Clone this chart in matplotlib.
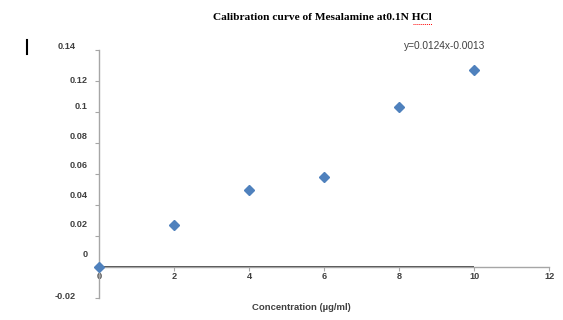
import numpy as np
import matplotlib
matplotlib.use("Agg")
import matplotlib.pyplot as plt
from matplotlib.lines import Line2D

# calibration data
conc = [0, 2, 4, 6, 8, 10]
absorb = [0.0, 0.027, 0.050, 0.058, 0.103, 0.127]
xticks = [0, 2, 4, 6, 8, 10, 12]
yticks = [-0.02, 0, 0.02, 0.04, 0.06, 0.08, 0.1, 0.12, 0.14]
ylabels = ["-0.02", "0", "0.02", "0.04", "0.06", "0.08", "0.1", "0.12", "0.14"]
title = "Calibration curve of Mesalamine at0.1N HCl"
equation = "y=0.0124x-0.0013"
xlabel = "Concentration (\u00b5g/ml)"

# excel put the y labels slightly off their ticks (points: dx, dy)
ylab_off = [(-17.3, 0.9), (-8.6, 9.1), (-8.6, 8.4), (-8.6, 7.2), (-8.6, 5.8),
            (-8.6, 5.0), (-8.6, 4.3), (-8.6, 0.7), (-17.3, 2.4)]

blue = "#4F81BD"
txt = "#404040"
axc = "#a6a6a6"
sans = ["Liberation Sans", "DejaVu Sans"]

fig = plt.figure(figsize=(5.63, 3.2), dpi=100)
ax = fig.add_axes([99.3 / 563, 1 - 298 / 320, 450 / 563, 248 / 320])

ax.hlines(0, conc[0], conc[-1], color="#3a3a3a", lw=1.3, zorder=2)
ax.plot(conc, absorb, "D", color=blue, ms=5.5, mec=blue, zorder=3, clip_on=False)

ax.set_xlim(0, 12)
ax.set_ylim(-0.02, 0.14)
ax.spines["top"].set_visible(False)
ax.spines["right"].set_visible(False)
ax.spines["bottom"].set_position(("data", 0))
for s in ["left", "bottom"]:
    ax.spines[s].set_color(axc)
    ax.spines[s].set_linewidth(1.0)

ax.set_xticks(xticks)
ax.set_xticklabels([str(v) for v in xticks])
ax.tick_params(axis="x", direction="out", length=3, width=0.8, color=axc,
               labelsize=6.6, labelcolor=txt, pad=0.8)
for lab in ax.get_xticklabels():
    lab.set_family(sans)
    lab.set_fontweight("bold")

ax.set_yticks(yticks)
ax.set_yticklabels([""] * len(yticks))
ax.tick_params(axis="y", direction="out", length=3, width=0.8, color=axc)
for v, lab, (dx, dy) in zip(yticks, ylabels, ylab_off):
    ax.annotate(lab, xy=(0, v), xycoords=("axes fraction", "data"),
                xytext=(dx, dy), textcoords="offset points",
                ha="right", va="center", fontsize=6.6, color=txt,
                fontweight="bold", family=sans, annotation_clip=False)

ax.set_xlabel(xlabel, fontsize=6.8, fontweight="bold", color=txt,
              family=sans)
ax.xaxis.set_label_coords(0.449, -0.02)

ax.text(0.767, 1.016, equation, transform=ax.transAxes, ha="center",
        va="center", fontsize=7.3, color=txt, family=sans)

fig.text(0.573, 1 - 18 / 320, title, ha="center", va="center",
         fontsize=8.2, fontweight="bold", family="Liberation Serif",
         color="black")

# spell-check squiggle under HCl and the stray cursor mark
fig.add_artist(Line2D([413 / 563, 432 / 563], [1 - 24 / 320] * 2,
                      color="red", lw=0.7, ls=(0, (1, 1))))
fig.add_artist(Line2D([26.8 / 563] * 2, [1 - 40 / 320, 1 - 54 / 320],
                      color="black", lw=1.5))

fig.savefig("out.png", dpi=100)
